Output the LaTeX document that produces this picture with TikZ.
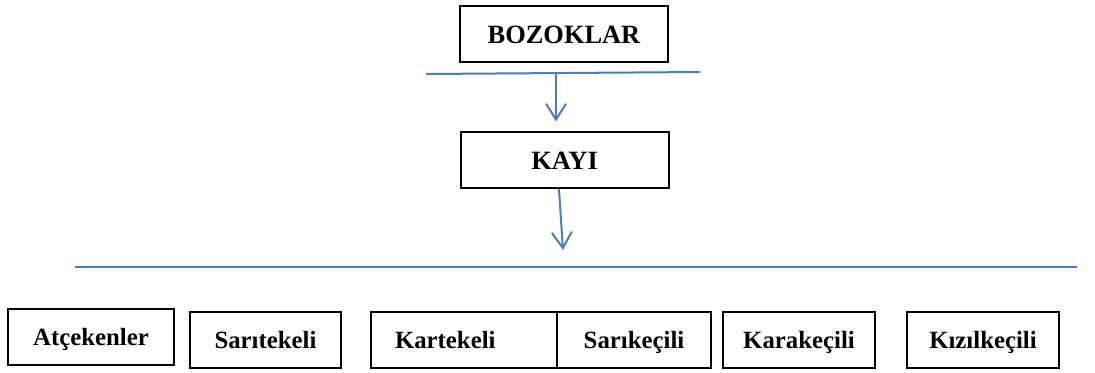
\documentclass[tikz,border=0pt]{standalone}
\usepackage{fontspec}
\setmainfont{Liberation Serif}
\usetikzlibrary{arrows.meta}
\definecolor{linkblue}{RGB}{74,126,187}
\tikzset{
  clan/.style={draw,line width=1pt,font=\bfseries\fontsize{12.4}{14}\selectfont,minimum height=28pt,inner sep=0pt,text height=8.6pt,text depth=0pt},
  topclan/.style={clan,font=\bfseries\fontsize{13.2}{15}\selectfont,minimum width=104pt,text height=9.6pt},
  link/.style={linkblue,line width=1pt},
  down/.style={link,-{Straight Barb[length=8pt,width=10pt,line width=1pt]}}
}

\begin{document}
\begin{tikzpicture}[x=0.5pt,y=-0.5pt]
  \useasboundingbox (0,0) rectangle (1095,372);

  \node[topclan] (bozok) at (564,33.5) {BOZOKLAR};
  \node[topclan] (kayi) at (564.5,159.5) {KAYI};

  \coordinate (t1) at (426,74);
  \coordinate (t2) at (700,72);
  \coordinate (t0) at (556,73);
  \draw[link] (t1) -- (t2);
  \draw[down,shorten >=4.5pt] (t0) -- (t0 |- kayi.north);

  \coordinate (k1) at (563,250);
  \draw[down] ([xshift=-2.8pt]kayi.south) -- (k1);

  \coordinate (b1) at (75,267);
  \coordinate (b2) at (1077,267);
  \draw[link] (b1) -- (b2);

  % alt boylar
  \node[clan,minimum width=83pt] (atc) at (91,336.5) {Atçekenler};
  \node[clan,minimum width=75.5pt] (sarit) at (265.5,339.5) {Sarıtekeli};
  \node[clan,inner xsep=12pt,text width=69pt,align=left] (kart) at (464,339.5) {Kartekeli};
  \foreach \n/\x/\w/\t in {sarik/634/77/Sarıkeçili,karak/799/76/Karakeçili,kizil/983/76/Kızılkeçili}
    \node[clan,minimum width=\w pt] (\n) at (\x,339.5) {\t};
\end{tikzpicture}
\end{document}
